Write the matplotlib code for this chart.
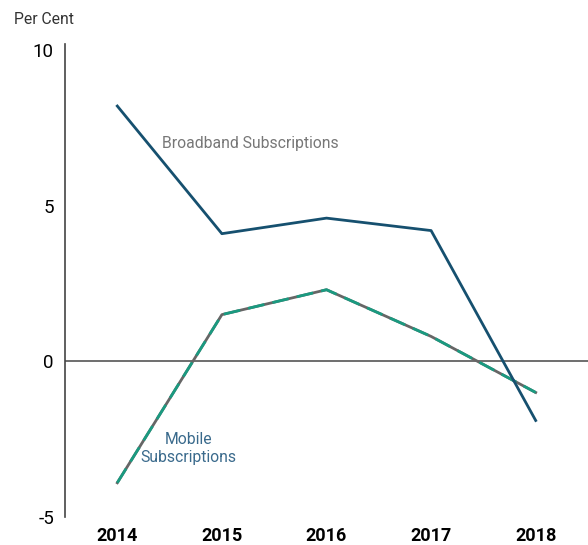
import numpy as np
import matplotlib.pyplot as plt

plt.rcParams['font.family'] = ['Roboto', 'DejaVu Sans']
plt.rcParams['axes.unicode_minus'] = False

years = ['2014', '2015', '2016', '2017', '2018']
broadband = [8.2, 4.1, 4.6, 4.2, -1.9]
mobile = [-3.9, 1.5, 2.3, 0.8, -1.0]

blue = '#16506f'
green = '#1a9a80'
grey = '#666666'

fig = plt.figure(figsize=(5.88, 5.45), dpi=100)
ax = fig.add_axes([65 / 588, 1 - 517 / 545, 1 - 65 / 588, (517 - 50) / 545])

x = np.arange(len(years))
ax.axhline(0, color='#555555', lw=1.2, zorder=1)
ax.plot(x, broadband, color=blue, lw=2, zorder=3)
ax.plot(x, mobile, color=grey, lw=2, zorder=2)
ax.plot(x, mobile, color=green, lw=2, dashes=(6, 3), zorder=2.5)

ax.set_xlim(-0.5, 4.5)
ax.set_ylim(-5, 10)
ax.set_yticks([-5, 0, 5, 10])
ax.set_xticks(x)
ax.set_xticklabels(years, fontweight='bold', fontsize=13)
ax.tick_params(axis='y', length=0, labelsize=13.5, pad=8)
ax.tick_params(axis='x', length=0, pad=7)
for s in ['top', 'right', 'bottom']:
    ax.spines[s].set_visible(False)
ax.spines['left'].set_color('#444444')
ax.spines['left'].set_bounds(-5, 10.2)
ax.spines['left'].set_linewidth(1.2)

ax.text(0.43, 7.0, 'Broadband Subscriptions', color='#777777', fontsize=11.3,
        ha='left', va='center')
ax.text(0.68, -2.8, 'Mobile\nSubscriptions', color='#3a6a8c', fontsize=11.3,
        ha='center', va='center', linespacing=1.25)
fig.text(14 / 588, 1 - 19 / 545, 'Per Cent', fontsize=11.3, color='#333333',
         ha='left', va='center')

fig.savefig('out.png', dpi=100)
